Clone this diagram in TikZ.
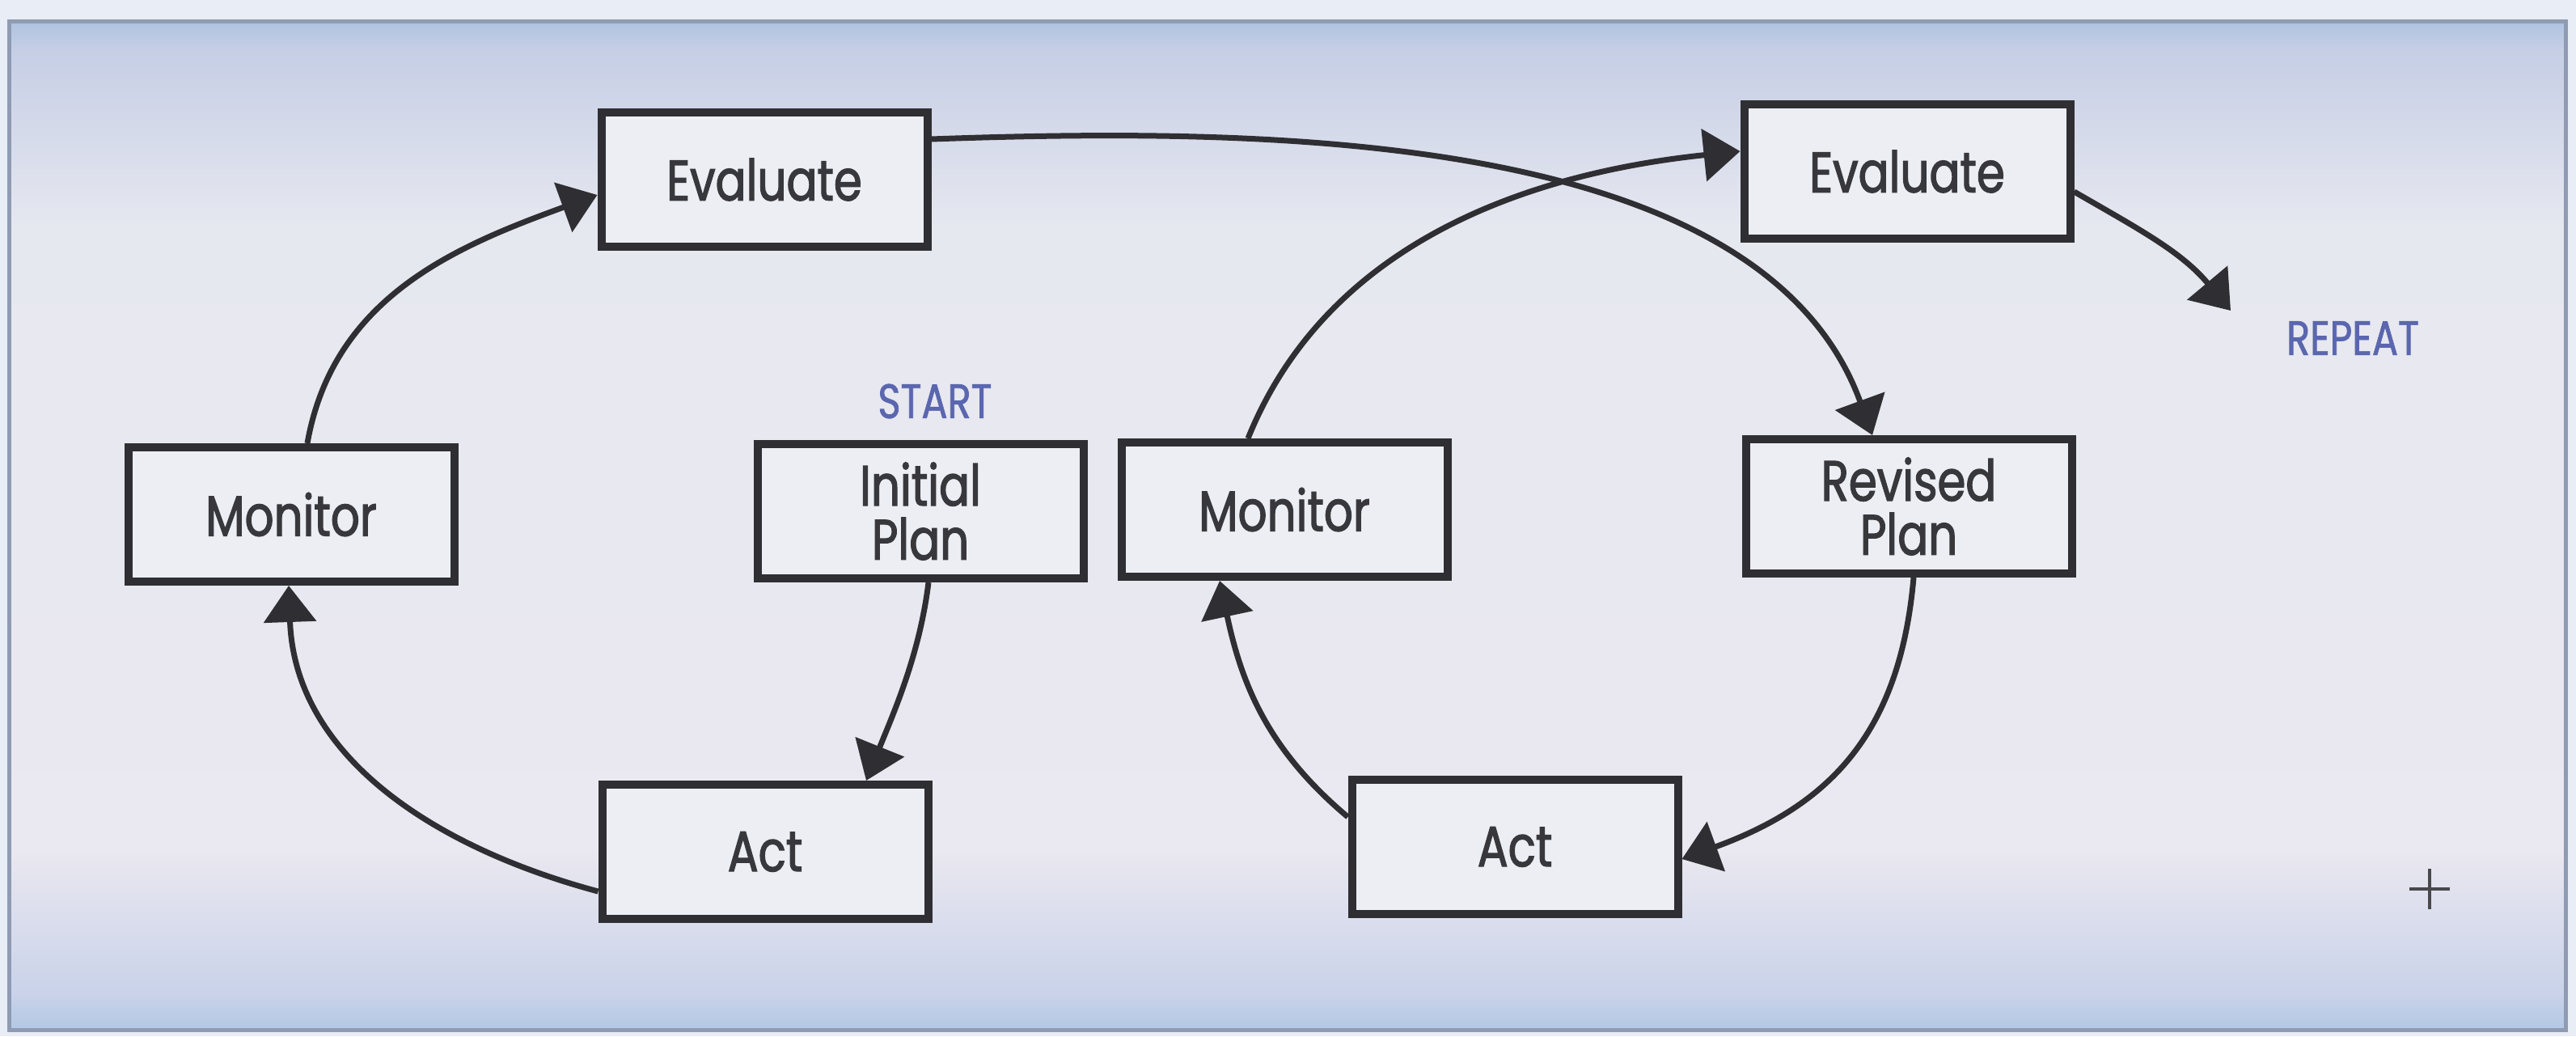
\documentclass[tikz,border=0pt]{standalone}
\usepackage{fontspec}
\setmainfont{Poppins}[FakeStretch=0.8]
\newfontfamily\stagefont{Poppins}[FakeStretch=0.8, FakeBold=1.8]
\newfontfamily\cuefont{Poppins}[FakeStretch=0.8, FakeBold=1.2]
\usetikzlibrary{arrows.meta}

\definecolor{pagebg}{HTML}{E9EDF5}
\definecolor{framec}{HTML}{8F9BB2}
\definecolor{bandA}{HTML}{AEC3E0}
\definecolor{bandB}{HTML}{C6CEE5}
\definecolor{bandC}{HTML}{E6E8F0}
\definecolor{bandD}{HTML}{EAE8F0}
\definecolor{bandE}{HTML}{C9D2E9}
\definecolor{bandF}{HTML}{B2C8E4}
\definecolor{boxfill}{HTML}{ECEEF3}
\definecolor{boxtext}{HTML}{38383C}
\definecolor{ink}{HTML}{2F2F33}
\definecolor{cueblue}{HTML}{5A66AE}
\definecolor{markc}{HTML}{48484C}

\begin{document}
\begin{tikzpicture}[
  stage/.style={draw=ink, line width=0.1cm, fill=boxfill,
    minimum width=4.03cm, minimum height=1.66cm, inner sep=0pt,
    align=center, text=boxtext, font=\stagefont\fontsize{20}{19}\selectfont},
  flow/.style={draw=ink, line width=0.07cm,
    -{Triangle[length=0.45cm,width=0.64cm]}},
  cue/.style={text=cueblue, inner sep=0pt, font=\cuefont\fontsize{17}{17}\selectfont},
]
\useasboundingbox (0,0) rectangle (31.85,12.81);

% page and shaded panel
\fill[pagebg] (0,0) rectangle (31.85,12.81);
\shade[top color=bandA, bottom color=bandB] (0.12,12.20) rectangle (31.72,12.54);
\shade[top color=bandB, bottom color=bandC] (0.12,10.00) rectangle (31.72,12.21);
\shade[top color=bandC, bottom color=bandD] (0.12,2.30) rectangle (31.72,10.01);
\shade[top color=bandD, bottom color=bandE] (0.12,0.50) rectangle (31.72,2.31);
\shade[top color=bandE, bottom color=bandF] (0.12,0.08) rectangle (31.72,0.51);
\draw[framec, line width=0.05cm] (0.12,0.08) rectangle (31.72,12.54);

% first cycle
\node[stage] (e1) at (9.45,10.59) {Evaluate};
\node[stage] (m1) at (3.60,6.45) {Monitor};
\node[stage] (ip) at (11.38,6.49) {Initial\\Plan};
\node[stage] (a1) at (9.46,2.28) {Act};

% second cycle
\node[stage] (m2) at (15.88,6.51) {Monitor};
\node[stage] (e2) at (23.58,10.69) {Evaluate};
\node[stage] (rp) at (23.60,6.55) {Revised\\Plan};
\node[stage] (a2) at (18.73,2.34) {Act};

% labels
\node[cue] (start) at (11.56,7.85) {START};
\node[cue] (repeat) at (29.09,8.63) {REPEAT};
\coordinate (rep) at (27.58,8.97);

% connectors
\draw[flow] ([xshift=0.2cm]m1.north) to[out=80,in=200] ([yshift=-0.19cm]e1.west);
\draw[flow] ([yshift=0.5cm]e1.east) to[out=2,in=110,looseness=0.85] ([xshift=-0.45cm]rp.north);
\draw[flow] ([xshift=-0.45cm]m2.north) to[out=68,in=186,looseness=0.95] ([yshift=0.25cm]e2.west);
\draw[flow] ([yshift=-0.25cm]e2.east) to[out=-30,in=130] (rep);
\draw[flow] ([xshift=0.1cm]ip.south) to[out=-97,in=68,looseness=0.9] ([xshift=1.25cm]a1.north);
\draw[flow] ([yshift=-0.49cm]a1.west) to[out=165,in=-88] ([xshift=-0.03cm]m1.south);
\draw[flow] ([xshift=0.06cm]rp.south) to[out=-95,in=20,looseness=1.1] ([yshift=-0.15cm]a2.east);
\draw[flow] ([yshift=0.37cm]a2.west) to[out=140,in=-78] ([xshift=-0.8cm]m2.south);

% registration cross
\draw[markc, line width=0.035cm] (30.04,1.57) -- (30.04,2.07);
\draw[markc, line width=0.035cm] (29.79,1.82) -- (30.29,1.82);
\end{tikzpicture}
\end{document}
